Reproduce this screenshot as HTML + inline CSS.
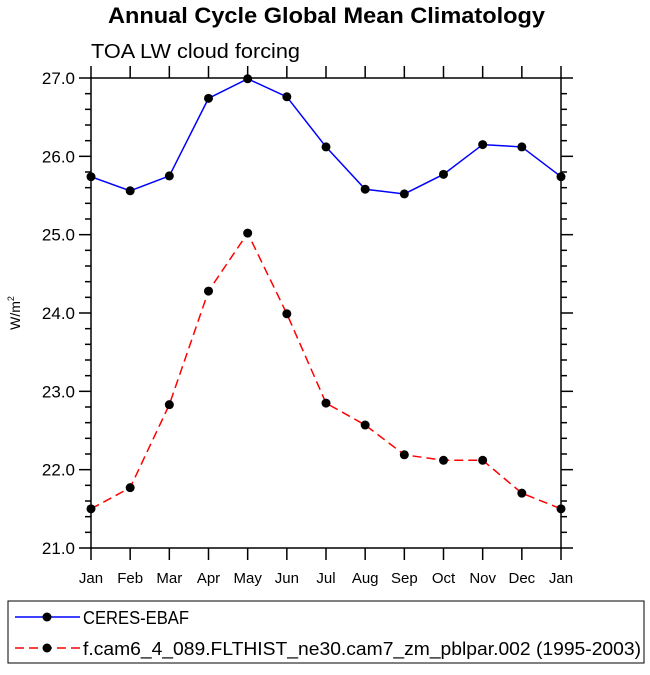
<!DOCTYPE html>
<html><head><meta charset="utf-8"><style>
body{margin:0;background:#fff;font-family:"Liberation Sans",sans-serif}
</style></head><body>
<svg id="c" width="650" height="670" xmlns="http://www.w3.org/2000/svg" font-family="Liberation Sans, sans-serif">
<text x="108" y="23" font-size="22" font-weight="bold" textLength="437" lengthAdjust="spacingAndGlyphs">Annual Cycle Global Mean Climatology</text>
<text x="91" y="58" font-size="20" textLength="209" lengthAdjust="spacingAndGlyphs">TOA LW cloud forcing</text>
<text transform="translate(20,313) rotate(-90)" text-anchor="middle" font-size="14">W/m<tspan font-size="9" dy="-6">2</tspan></text>
<g id="axes"></g><g id="marks"></g>
<rect x="8" y="601" width="636" height="62" fill="none" stroke="#000" stroke-width="1"/>
<g>
<line x1="15" y1="617" x2="80" y2="617" stroke="#00f" stroke-width="1.5"/><circle cx="47" cy="617" r="4.5"/>
<text x="83" y="624" font-size="18" textLength="106" lengthAdjust="spacingAndGlyphs">CERES-EBAF</text></g>
<g>
<line x1="15" y1="648" x2="80" y2="648" stroke="#f00" stroke-width="1.5" stroke-dasharray="9,5"/><circle cx="47" cy="648" r="4.5"/>
<text x="83" y="655" font-size="18" textLength="558" lengthAdjust="spacingAndGlyphs">f.cam6_4_089.FLTHIST_ne30.cam7_zm_pblpar.002 (1995-2003)</text></g>
</svg>
<script>
const months=["Jan","Feb","Mar","Apr","May","Jun","Jul","Aug","Sep","Oct","Nov","Dec","Jan"];
const ceres=[25.74,25.56,25.75,26.74,26.99,26.76,26.12,25.58,25.52,25.77,26.15,26.12,25.74];
const model=[21.50,21.77,22.83,24.28,25.02,23.99,22.85,22.57,22.19,22.12,22.12,21.70,21.50];
const yTicks=[21,22,23,24,25,26,27];
const L=91,R=561,T=78,B=548,ymin=21,ymax=27;
const xs=i=>L+(R-L)*i/12, ys=v=>B-(v-ymin)/(ymax-ymin)*(B-T);
const NS="http://www.w3.org/2000/svg";
const ax=document.getElementById('axes'),mk=document.getElementById('marks');
function el(t,a,p){const e=document.createElementNS(NS,t);for(const k in a)e.setAttribute(k,a[k]);p.appendChild(e);return e;}
const fr=el('rect',{x:L,y:T,width:R-L,height:B-T,fill:'none',stroke:'#000','stroke-width':1.5},ax);


months.forEach((m,i)=>{const x=xs(i);
 el('line',{x1:x,y1:B,x2:x,y2:B+12,stroke:'#000','stroke-width':1.5},ax);
 el('line',{x1:x,y1:T,x2:x,y2:T-12,stroke:'#000','stroke-width':1.5},ax);
 const t=el('text',{x:x,y:B+35,'text-anchor':'middle','font-size':15},ax);t.textContent=m;
 
 });
for(let v=ymin;v<=ymax+1e-9;v+=0.2){const y=ys(v);const major=Math.abs(v-Math.round(v))<1e-6;const len=major?12:6;
 el('line',{x1:L-len,y1:y,x2:L,y2:y,stroke:'#000','stroke-width':1.5},ax);
 el('line',{x1:R,y1:y,x2:R+len,y2:y,stroke:'#000','stroke-width':1.5},ax);}
yTicks.forEach(v=>{const t=el('text',{x:L-16,y:ys(v)+6,'text-anchor':'end','font-size':17},ax);t.textContent=v.toFixed(1);
 
 });
function series(d,c,dash,name){const g=el('g',{},mk);
 
 
 const p=el('polyline',{points:d.map((v,i)=>xs(i)+','+ys(v)).join(' '),fill:'none',stroke:c,'stroke-width':1.5},g);
 if(dash)p.setAttribute('stroke-dasharray','9,5');
 d.forEach((v,i)=>{const ci=el('circle',{cx:xs(i),cy:ys(v),r:4.5},g);
  
  });}
series(ceres,'#00f',false,'series-ceres');
series(model,'#f00',true,'series-model');
</script>
</body></html>
